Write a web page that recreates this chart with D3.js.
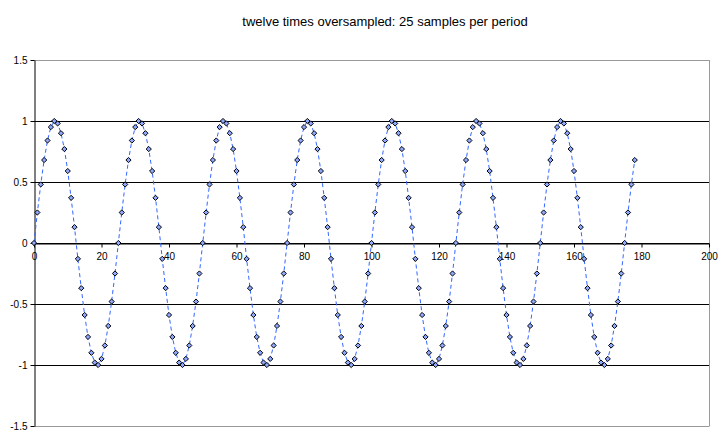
<!DOCTYPE html>
<html><head><meta charset="utf-8">
<script src="https://cdn.jsdelivr.net/npm/d3@7"></script>
<style>body{margin:0;background:#fff}svg{display:block;font-family:"Liberation Sans",Arial,sans-serif}</style>
</head><body>
<svg id="c" width="723" height="444"></svg>
<script>
const title = "twelve times oversampled: 25 samples per period";
const xTicks = [0,20,40,60,80,100,120,140,160,180,200];
const yTicks = [-1.5,-1,-0.5,0,0.5,1,1.5];
const yTickLabels = ["-1.5","-1","-0.5","0","0.5","1","1.5"];
// sample values at x = 0,1,2,...,178
const values = [
 0,0.25,0.48,0.68,0.84,0.95,1.00,0.98,0.90,0.77,0.59,0.37,0.13,-0.13,-0.37,-0.59,-0.77,-0.90,-0.98,-1.00,-0.95,-0.84,-0.68,-0.48,-0.25,
 0,0.25,0.48,0.68,0.84,0.95,1.00,0.98,0.90,0.77,0.59,0.37,0.13,-0.13,-0.37,-0.59,-0.77,-0.90,-0.98,-1.00,-0.95,-0.84,-0.68,-0.48,-0.25,
 0,0.25,0.48,0.68,0.84,0.95,1.00,0.98,0.90,0.77,0.59,0.37,0.13,-0.13,-0.37,-0.59,-0.77,-0.90,-0.98,-1.00,-0.95,-0.84,-0.68,-0.48,-0.25,
 0,0.25,0.48,0.68,0.84,0.95,1.00,0.98,0.90,0.77,0.59,0.37,0.13,-0.13,-0.37,-0.59,-0.77,-0.90,-0.98,-1.00,-0.95,-0.84,-0.68,-0.48,-0.25,
 0,0.25,0.48,0.68,0.84,0.95,1.00,0.98,0.90,0.77,0.59,0.37,0.13,-0.13,-0.37,-0.59,-0.77,-0.90,-0.98,-1.00,-0.95,-0.84,-0.68,-0.48,-0.25,
 0,0.25,0.48,0.68,0.84,0.95,1.00,0.98,0.90,0.77,0.59,0.37,0.13,-0.13,-0.37,-0.59,-0.77,-0.90,-0.98,-1.00,-0.95,-0.84,-0.68,-0.48,-0.25,
 0,0.25,0.48,0.68,0.84,0.95,1.00,0.98,0.90,0.77,0.59,0.37,0.13,-0.13,-0.37,-0.59,-0.77,-0.90,-0.98,-1.00,-0.95,-0.84,-0.68,-0.48,-0.25,
 0,0.25,0.48,0.68
];
const svg = d3.select("#c");
const L=34,R=709,T=60,B=426;
const x = d3.scaleLinear().domain([0,200]).range([L,R]);
const y = d3.scaleLinear().domain([-1.5,1.5]).range([B,T]);

svg.append("text").attr("x",385).attr("y",26).attr("text-anchor","middle")
  .attr("font-size",13).text(title);

// gridlines
svg.append("g").selectAll("line").data(yTicks).join("line")
  .attr("x1",L).attr("x2",R).attr("y1",d=>y(d)+0.5).attr("y2",d=>y(d)+0.5)
  .attr("stroke",d=>Math.abs(d)===1.5?"#999":"#000").attr("stroke-width",1);
// right border
svg.append("line").attr("x1",R+0.5).attr("x2",R+0.5).attr("y1",T).attr("y2",B+0.5).attr("stroke","#999");

// y axis
const ya = svg.append("g").attr("transform",`translate(${L+0.5},0)`)
  .call(d3.axisLeft(y).tickValues(yTicks).tickSize(4).tickSizeOuter(0).tickFormat((d,i)=>yTickLabels[i]));
ya.select(".domain").attr("stroke","#000");
ya.selectAll("text").attr("font-size",10).attr("font-family","Liberation Sans, Arial, sans-serif").attr("fill","#000").attr("x",-7);
ya.selectAll(".tick line").attr("stroke","#000");

// x axis at y=0
const xa = svg.append("g").attr("transform",`translate(0,${y(0)+0.5})`)
  .call(d3.axisBottom(x).tickValues(xTicks).tickSize(4).tickSizeOuter(0).tickFormat(d3.format("d")));
xa.select(".domain").attr("stroke","#000");
xa.selectAll("text").attr("font-size",10).attr("font-family","Liberation Sans, Arial, sans-serif").attr("fill","#000").attr("dy","0.9em");
xa.selectAll(".tick line").attr("stroke","#000");

const pts = values.map((v,i)=>[i,v]);
svg.append("path").datum(pts)
  .attr("d",d3.line().x(d=>x(d[0])).y(d=>y(d[1])))
  .attr("fill","none").attr("stroke","#3366ff").attr("stroke-width",1).attr("stroke-dasharray","4,3");

svg.append("g").selectAll("path").data(pts).join("path")
  .attr("transform",d=>`translate(${x(d[0])},${y(d[1])})`)
  .attr("d","M0,-2.6L2.6,0L0,2.6L-2.6,0Z")
  .attr("fill","#8fa8ff").attr("stroke","#000").attr("stroke-width",1);
</script>
</body></html>
